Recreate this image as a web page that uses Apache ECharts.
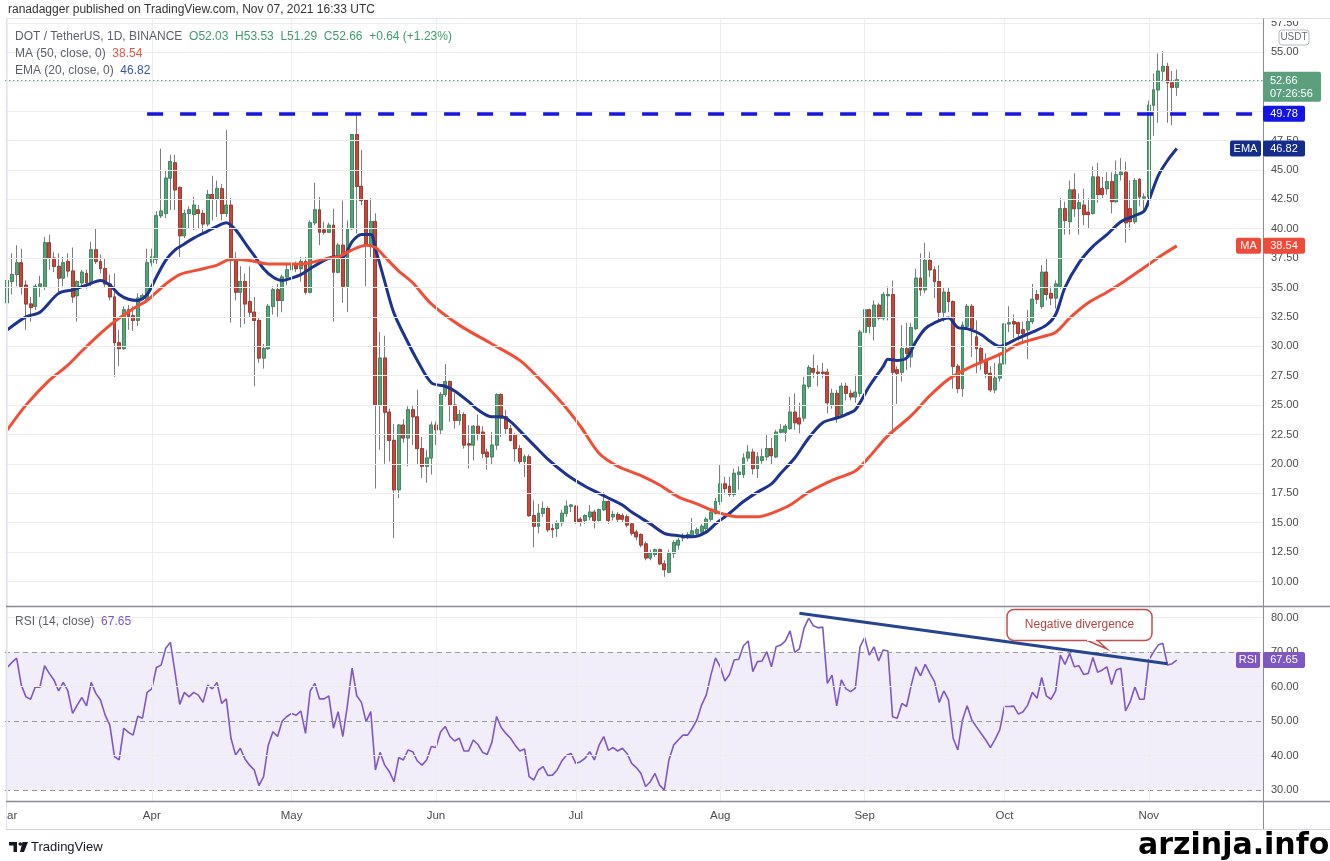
<!DOCTYPE html>
<html><head><meta charset="utf-8">
<script src="https://cdn.jsdelivr.net/npm/echarts@6/dist/echarts.min.js"></script>
<style>html,body{margin:0;padding:0;background:#fff;}#c{width:1330px;height:861px;}</style>
</head><body><div id="c"></div>
<script>
// ---------- DATA ----------
const startYear = 2021, startMonth = 2, startDay = 1; // 1 Mar 2021
const dayCount = 270;
const monthNames = ['Jan','Feb','Mar','Apr','May','Jun','Jul','Aug','Sep','Oct','Nov','Dec'];

// daily candles [open, close, low, high], 1 Mar 2021 .. 7 Nov 2021
const candles = [
[33.7,35.6,32.9,36.0],[35.5,36.1,34.4,37.9],[36.1,37.1,35.1,38.6],[37.1,35.1,34.4,38.3],[35.2,33.6,31.4,35.6],
[33.6,33.3,32.1,34.2],[33.4,35.1,33.1,35.3],[35.1,35.3,34.2,36.0],[35.0,38.8,34.8,39.3],[38.8,37.5,36.5,39.5],
[37.5,36.8,36.3,38.0],[36.8,35.8,34.5,37.9],[35.8,37.1,35.1,37.6],[37.2,36.4,35.9,37.9],[36.4,34.2,33.7,38.4],
[34.3,35.5,32.1,35.6],[35.4,36.3,35.1,36.5],[36.2,35.4,34.9,36.5],[35.4,38.2,35.1,38.9],[38.2,37.2,37.0,40.0],
[37.2,36.6,36.2,37.8],[36.6,35.3,35.0,37.5],[35.3,34.2,33.9,36.1],[34.2,30.3,27.4,36.2],[30.3,29.8,28.3,31.4],
[29.8,33.1,29.7,33.4],[33.1,32.5,31.4,33.5],[32.6,32.2,31.3,33.4],[32.2,34.1,31.7,34.5],[34.0,34.3,33.9,34.5],
[34.0,37.1,33.8,38.3],[37.1,37.6,36.8,38.3],[37.4,41.1,37.0,41.5],[41.1,41.5,40.9,46.8],[41.3,44.3,40.9,45.0],
[44.3,45.7,41.6,46.3],[45.6,43.3,41.6,46.3],[43.5,39.4,37.6,43.6],[39.4,41.3,39.2,41.6],[41.3,41.6,40.0,41.9],
[41.2,42.0,39.9,42.7],[41.6,41.3,40.0,42.0],[41.3,40.4,39.6,41.6],[40.4,42.9,40.2,43.3],[42.9,42.5,40.7,44.5],
[42.5,43.4,41.0,44.1],[43.4,41.3,40.7,43.8],[41.3,42.0,41.0,48.4],[42.0,37.3,32.0,42.6],[37.3,34.6,33.9,38.0],
[34.6,35.5,31.6,36.8],[35.5,33.6,31.9,36.2],[33.8,32.9,32.5,36.8],[32.9,32.2,26.6,34.2],[32.2,29.0,28.6,32.5],
[29.0,29.8,28.1,30.2],[29.8,33.4,29.7,33.6],[33.4,34.8,32.7,35.1],[34.8,33.9,32.5,35.3],[33.9,35.9,32.9,36.1],
[35.9,36.5,35.2,37.1],[36.5,36.9,36.2,37.3],[36.9,36.6,36.3,37.2],[36.6,37.2,35.5,37.6],[37.2,34.6,34.4,37.6],
[34.6,40.5,34.5,40.7],[40.5,41.6,40.3,43.9],[41.6,39.7,38.6,42.7],[39.9,39.7,39.5,40.6],[39.7,40.3,39.7,40.5],
[40.3,36.3,32.1,41.7],[36.3,38.6,36.2,38.8],[38.6,35.1,33.7,42.4],[35.1,40.0,32.9,40.7],[40.0,48.0,39.9,48.0],
[48.0,43.6,39.6,49.8],[43.6,42.4,42.0,46.7],[42.4,38.6,35.1,42.4],[38.6,40.6,37.6,42.6],[40.6,25.0,17.9,41.3],
[25.0,29.0,21.2,31.2],[29.0,24.4,20.0,30.9],[24.4,22.0,20.2,24.7],[22.0,17.8,13.7,23.4],[17.8,23.3,17.1,23.4],
[23.3,22.2,21.8,23.8],[22.2,24.6,19.8,24.9],[24.6,24.0,21.6,25.0],[24.0,21.3,20.0,26.3],[21.3,19.8,18.8,22.3],
[19.8,20.5,18.4,21.2],[20.5,23.3,19.1,23.6],[23.3,22.9,21.6,23.6],[22.9,25.9,22.5,26.1],[25.9,27.0,25.7,28.5],
[27.0,25.0,23.6,27.1],[25.0,23.7,23.0,26.0],[23.7,24.2,23.3,24.6],[24.2,21.6,21.3,24.4],[21.7,21.6,19.6,23.3],
[21.6,23.2,20.3,23.3],[23.2,22.6,22.0,24.2],[22.7,20.9,20.5,23.2],[21.0,20.6,19.5,21.3],[20.6,21.6,19.9,22.7],
[21.6,25.9,21.2,26.0],[25.9,23.9,22.3,26.0],[24.0,23.0,22.5,24.6],[23.0,22.0,21.9,23.3],[22.5,21.3,20.2,22.6],
[21.3,20.2,20.0,21.6],[20.2,20.6,18.9,20.8],[20.6,15.6,15.5,20.8],[15.6,14.7,12.9,16.9],[14.7,15.8,14.1,16.6],
[15.8,16.2,15.5,16.8],[16.2,14.4,14.2,16.4],[14.5,14.4,13.7,14.9],[14.5,15.0,13.8,15.2],[15.0,15.8,14.7,16.1],
[15.8,16.4,15.5,16.9],[16.4,16.5,15.9,16.6],[16.4,15.1,14.9,16.5],[15.3,15.1,14.7,15.5],[15.2,15.6,14.9,15.7],
[15.5,15.9,15.2,16.5],[15.9,15.2,14.5,16.1],[15.2,16.1,15.1,16.2],[16.1,16.8,16.0,17.6],[16.8,15.2,14.9,16.9],
[15.5,15.7,15.2,16.0],[15.7,15.3,15.0,15.9],[15.6,15.3,15.0,15.8],[15.5,14.8,14.6,15.7],[14.9,14.1,13.9,15.0],
[14.2,13.8,13.5,14.4],[14.0,13.1,12.9,14.1],[13.2,12.0,11.8,13.4],[12.0,12.4,11.8,12.7],[12.3,12.7,12.1,12.8],
[12.7,11.5,11.4,12.8],[11.5,11.0,10.4,11.8],[10.8,12.4,10.7,12.7],[12.4,13.3,12.0,13.5],[13.1,13.5,12.7,13.7],
[13.7,13.9,13.4,14.1],[13.8,14.0,13.6,14.2],[13.9,14.3,13.8,15.4],[14.1,14.4,13.9,14.6],[14.2,14.7,14.0,14.9],
[14.5,15.3,14.3,15.5],[15.3,15.9,15.1,16.1],[15.8,16.8,15.7,17.1],[16.8,18.3,16.5,19.9],[18.3,17.9,17.4,18.9],
[18.1,17.4,17.2,18.9],[17.4,19.2,17.2,19.6],[19.1,19.3,17.8,19.8],[19.1,20.5,18.8,20.9],[20.5,21.0,20.2,21.6],
[21.0,19.6,19.1,21.3],[19.6,20.6,18.8,21.0],[20.3,20.6,20.0,21.3],[20.6,21.3,20.3,22.5],[21.3,20.7,19.9,22.2],
[20.6,22.7,20.5,22.9],[22.7,22.9,22.6,23.4],[22.7,23.2,21.9,23.4],[23.0,24.4,22.9,25.7],[24.4,23.5,22.9,26.0],
[23.9,23.4,22.6,25.2],[23.9,26.7,23.6,27.4],[26.6,28.2,26.4,28.4],[28.1,27.8,27.3,29.3],[27.8,27.7,26.6,28.4],
[27.8,27.7,27.3,28.6],[27.8,25.2,24.3,28.1],[25.0,26.0,24.7,26.4],[26.0,23.9,23.5,26.3],[24.2,26.6,23.9,26.9],
[26.6,26.0,25.4,26.9],[26.0,25.7,25.4,26.3],[25.7,26.1,25.2,27.6],[26.0,31.2,25.7,31.4],[31.2,33.1,29.7,33.8],
[33.1,31.7,31.1,33.2],[31.7,33.5,30.5,33.9],[33.5,32.4,32.2,33.7],[32.4,34.4,32.2,34.6],[34.3,34.4,32.2,35.1],
[34.4,27.8,22.5,35.6],[28.0,27.7,25.1,28.3],[27.8,29.8,27.0,31.8],[29.8,29.4,28.0,32.0],[29.1,31.6,28.2,32.0],
[31.5,35.8,31.4,36.6],[35.8,34.8,34.3,37.9],[34.8,37.3,34.5,38.8],[37.3,36.5,35.9,38.0],[36.5,35.5,34.1,36.8],
[35.5,32.9,32.1,36.9],[32.9,34.6,32.1,35.0],[34.6,33.8,32.9,35.0],[33.8,28.3,26.4,33.9],[28.3,26.4,26.0,28.5],
[26.4,31.8,25.7,32.1],[31.7,33.4,31.4,33.6],[33.4,31.5,29.1,33.6],[30.8,29.8,27.7,32.2],[29.8,28.7,28.0,30.1],
[28.8,27.7,27.3,29.4],[27.7,26.3,26.1,28.3],[26.3,27.3,26.0,28.6],[27.3,28.5,27.0,29.3],[28.5,31.9,28.3,32.1],
[31.9,32.0,31.2,33.4],[32.1,31.9,30.7,32.7],[32.0,31.1,30.5,32.1],[31.4,31.1,30.4,32.1],[31.4,32.1,28.9,33.1],
[32.1,34.0,31.9,35.3],[34.4,34.0,33.6,34.8],[33.4,36.3,33.2,36.9],[36.3,34.4,33.9,37.5],[34.5,34.1,33.5,35.1],
[34.1,35.3,33.2,35.6],[35.1,41.7,34.9,42.6],[41.7,40.7,39.5,42.3],[40.6,43.3,39.5,44.1],[43.3,41.7,41.0,44.7],
[41.7,42.2,39.5,43.0],[42.0,41.2,40.3,43.4],[41.4,41.2,40.0,42.6],[41.3,44.4,41.2,45.3],[44.4,42.9,42.2,45.6],
[43.4,42.9,42.6,44.4],[43.4,44.0,42.9,44.8],[44.0,42.3,41.3,44.8],[42.3,44.6,42.2,45.8],[44.6,44.8,44.1,46.0],
[44.8,40.5,38.8,45.7],[41.7,40.6,39.9,44.1],[40.6,44.1,40.4,44.3],[44.2,42.7,41.9,44.3],[42.6,42.7,41.4,43.0],
[42.7,50.5,41.9,50.9],[50.5,51.8,47.9,53.2],[51.8,53.4,49.0,54.9],[53.4,53.8,52.6,55.1],[53.8,52.4,49.0,54.1],
[52.4,52.02,48.8,53.4],[52.03,52.66,51.29,53.53]
];

// RSI(14) daily values
const rsiValues = [
65.5,67.0,68.2,60.4,57.0,56.3,59.9,59.8,66.0,63.8,61.9,58.7,61.2,58.7,52.2,54.6,56.8,54.4,61.2,58.0,
56.1,51.7,48.8,39.7,38.7,47.9,46.7,45.9,51.4,50.8,58.3,59.3,65.5,66.2,71.1,72.8,64.0,54.8,58.3,57.0,
58.3,57.5,55.4,60.4,59.3,61.2,55.1,56.4,45.0,40.1,42.1,39.0,37.2,35.8,31.3,33.9,43.0,46.9,45.5,50.0,
51.3,52.2,51.7,52.9,46.4,58.7,60.9,56.4,56.4,57.3,47.9,52.7,45.5,54.6,65.3,57.3,55.4,49.8,52.7,35.8,
40.9,37.2,35.3,32.4,39.4,38.7,41.6,41.1,38.4,37.2,38.7,42.6,42.3,46.9,48.4,45.5,44.2,45.0,41.3,41.3,
44.5,43.2,40.9,40.3,43.8,51.3,48.1,46.4,45.0,43.0,41.3,41.9,33.9,32.9,35.8,36.8,34.2,34.3,35.8,38.4,
40.1,40.6,37.7,38.2,39.2,41.1,38.7,43.0,45.5,41.5,42.3,41.3,42.1,40.6,37.7,36.5,34.8,31.0,32.4,34.8,
31.4,30.0,38.7,43.0,44.5,45.9,45.9,47.9,50.3,54.6,57.5,63.3,68.3,65.7,61.6,63.5,67.7,67.9,71.8,73.2,
64.3,67.2,67.4,70.1,65.7,71.5,72.0,73.2,76.1,69.9,70.9,76.9,79.8,77.6,77.0,77.2,60.9,63.3,54.4,61.9,
59.3,58.5,59.5,71.5,74.2,69.1,71.5,67.4,70.6,70.3,51.2,50.8,55.1,54.2,60.4,65.7,63.1,66.4,63.8,61.4,
55.4,58.7,56.1,45.0,41.6,50.3,54.4,50.3,48.3,46.4,44.5,42.3,44.7,47.4,54.2,54.2,54.3,52.0,52.7,54.6,
58.3,56.6,62.6,57.3,56.3,58.7,69.1,66.4,69.6,65.7,66.0,63.5,63.8,68.4,64.1,64.8,65.7,60.6,64.8,65.3,
52.9,55.6,59.9,56.3,56.3,67.7,70.0,72.0,72.5,66.2,66.6,67.65
];

// EMA(20) read at sampled days [dayIndex, value]
const emaPoints = [
[0,31.4],[4,32.5],[7,32.9],[11,34.5],[14,34.8],[17,35.2],[20,35.6],[22,35.2],[24,34.4],[26,34.0],
[28,33.9],[30,34.4],[32,35.9],[34,37.3],[36,38.2],[38,38.7],[40,39.2],[43,39.8],[45,40.2],[47,40.5],
[49,39.9],[51,38.8],[53,37.7],[55,36.6],[57,35.9],[59,35.6],[61,35.8],[63,36.1],[65,36.6],[68,37.3],
[70,37.6],[72,37.6],[74,38.9],[76,39.5],[78,39.5],[79,38.3],[81,35.5],[83,32.8],[86,30.3],[88,28.8],
[91,26.9],[94,26.6],[96,26.2],[99,25.3],[101,24.6],[104,24.0],[106,24.0],[108,23.6],[111,22.4],[113,21.6],
[116,20.4],[120,19.1],[124,18.1],[127,17.5],[129,17.1],[132,16.5],[134,15.9],[138,14.9],[141,14.1],[144,13.9],
[147,13.8],[150,14.2],[152,14.9],[155,15.8],[158,16.8],[161,17.6],[164,18.3],[166,19.2],[169,20.5],[172,22.2],
[175,23.5],[178,23.9],[180,24.2],[182,24.6],[185,26.6],[188,28.3],[189,28.9],[191,28.8],[193,29.0],[195,30.4],
[197,31.5],[199,32.0],[202,32.4],[204,31.6],[206,31.5],[209,31.0],[211,30.4],[213,30.0],[215,30.3],[217,30.7],
[220,31.2],[223,31.8],[225,32.7],[227,35.0],[230,37.1],[233,38.5],[236,39.5],[239,40.6],[242,41.1],[244,41.5],
[245,42.4],[247,44.5],[249,45.8],[251,46.82]
];

// MA(50) read at sampled days [dayIndex, value]
const maPoints = [
[0,22.9],[4,25.0],[9,27.1],[13,28.4],[16,29.6],[20,31.1],[23,32.1],[27,33.2],[30,33.9],[32,34.6],
[34,35.3],[37,36.1],[41,36.5],[45,36.9],[48,37.4],[52,37.3],[56,37.0],[60,37.0],[63,37.0],[66,37.2],
[69,37.5],[71,37.6],[74,38.2],[77,38.6],[79,38.4],[81,37.6],[84,36.4],[87,35.4],[91,33.6],[97,31.8],
[104,30.2],[110,28.8],[114,27.3],[119,25.2],[123,23.2],[127,20.9],[131,19.8],[136,19.0],[140,18.2],[144,17.2],
[148,16.6],[151,16.1],[154,15.7],[157,15.5],[161,15.5],[164,15.8],[168,16.5],[172,17.6],[177,18.6],[182,19.4],
[185,20.6],[189,22.4],[194,24.1],[198,25.8],[202,27.2],[206,28.1],[210,28.8],[214,29.5],[217,30.2],[222,30.8],
[225,31.2],[228,32.4],[232,33.7],[236,34.6],[240,35.6],[244,36.7],[248,37.8],[251,38.54]
];

const priceTicks = [10,12.5,15,17.5,20,22.5,25,27.5,30,32.5,35,37.5,40,42.5,45,47.5,50,52.5,55,57.5];
const rsiSolidTicks = [80,60,40];
const rsiDashedTicks = [70,50,30];
const resistanceLevel = 49.78, resistanceStartDay = 30;
const lastPrice = 52.66, lastEma = 46.82, lastMa = 38.54, lastRsi = 67.65;
const divergenceFrom = [170, 81.2], divergenceTo = [249, 66.6];

// ---------- BUILD ----------
const categories = [];
for (let i = 0; i < dayCount; i++) {
  const d = new Date(Date.UTC(startYear, startMonth, startDay + i));
  categories.push(d.toISOString().slice(0, 10));
}
const monthStarts = categories.filter(c => c.endsWith('-01'));
const bodies = candles.map(([o, c]) => [o, c, Math.min(o, c), Math.max(o, c)]);
const toCat = pts => pts.map(([d, v]) => [categories[d], v]);
const monthLabel = v => monthNames[+v.slice(5, 7) - 1];

const FONT = '"Liberation Sans", Arial, sans-serif';
const GRID = '#ededee';
const axisLabel = { show: true, position: 'end', distance: 8, color: '#4a4a4a', fontSize: 11, fontFamily: FONT,
  formatter: p => Number(p.value).toFixed(2) };

const chart = echarts.init(document.getElementById('c'), null, { renderer: 'canvas' });

const option = {
  animation: false,
  backgroundColor: '#ffffff',
  textStyle: { fontFamily: FONT },
  grid: [
    { left: 5, right: 67, top: 19, height: 587 },
    { left: 5, right: 67, top: 607, height: 194 }
  ],
  xAxis: [
    { type: 'category', gridIndex: 0, data: categories, boundaryGap: true,
      axisLine: { show: false }, axisTick: { show: false }, axisLabel: { show: false }, splitLine: { show: false } },
    { type: 'category', gridIndex: 1, data: categories, boundaryGap: true,
      axisLine: { show: false }, axisTick: { show: false }, splitLine: { show: false },
      axisLabel: { show: true, interval: (i, v) => i > 0 && v.endsWith('-01'),
        formatter: monthLabel, color: '#4a4a4a', fontSize: 11.5, margin: 9 } }
  ],
  yAxis: [
    { type: 'value', gridIndex: 0, min: 7.917, max: 57.83, show: false },
    { type: 'value', gridIndex: 1, min: 26.81, max: 83.04, show: false }
  ],
  series: [
    { name: 'wicks', type: 'candlestick', xAxisIndex: 0, yAxisIndex: 0, silent: true, barWidth: 3.4,
      data: candles,
      itemStyle: { color: '#7d7d80', color0: '#7d7d80', borderColor: '#7d7d80', borderColor0: '#7d7d80', borderWidth: 1 },
      markLine: { silent: true, symbol: ['none', 'none'], label: axisLabel,
        lineStyle: { color: GRID, width: 1, type: 'solid' },
        data: priceTicks.map(v => ({ yAxis: v }))
          .concat(monthStarts.map(c => ({ xAxis: c, label: { show: false } }))) } },
    { name: 'bodies', type: 'candlestick', xAxisIndex: 0, yAxisIndex: 0, silent: true, barWidth: 3.4,
      data: bodies,
      itemStyle: { color: '#56a37a', color0: '#c6473c', borderColor: '#3f8a61', borderColor0: '#a13a31', borderWidth: 1 },
      markLine: { silent: true, symbol: ['none', 'none'], label: { show: false },
        data: [
          { yAxis: lastPrice, lineStyle: { color: '#5a9f7c', type: [1.5, 2.5], width: 1 } },
          [ { coord: [categories[resistanceStartDay], resistanceLevel], lineStyle: { color: '#1616dc', type: [16, 17], width: 3.5 } },
            { coord: [categories[dayCount - 1], resistanceLevel] } ]
        ] } },
    { name: 'EMA', type: 'line', xAxisIndex: 0, yAxisIndex: 0, data: toCat(emaPoints), smooth: 0.3,
      showSymbol: false, silent: true, lineStyle: { color: '#1d3390', width: 3 } },
    { name: 'MA', type: 'line', xAxisIndex: 0, yAxisIndex: 0, data: toCat(maPoints), smooth: 0.3,
      showSymbol: false, silent: true, lineStyle: { color: '#f04f36', width: 3 } },
    { name: 'RSI', type: 'line', xAxisIndex: 1, yAxisIndex: 1, data: rsiValues, showSymbol: false, silent: true,
      lineStyle: { color: '#7e57c2', width: 1.6 },
      markArea: { silent: true, itemStyle: { color: 'rgba(126,87,194,0.1)' }, data: [[{ yAxis: 30 }, { yAxis: 70 }]] },
      markLine: { silent: true, symbol: ['none', 'none'], label: axisLabel,
        data: rsiSolidTicks.map(v => ({ yAxis: v, lineStyle: { color: GRID, type: 'solid', width: 1 } }))
          .concat(rsiDashedTicks.map(v => ({ yAxis: v, lineStyle: { color: '#9598a1', type: [5, 4], width: 1 } })))
          .concat(monthStarts.map(c => ({ xAxis: c, label: { show: false }, lineStyle: { color: GRID, type: 'solid', width: 1 } })))
          .concat([[ { coord: [categories[divergenceFrom[0]], divergenceFrom[1]], label: { show: false },
                       lineStyle: { color: '#27448f', type: 'solid', width: 3 } },
                     { coord: [categories[divergenceTo[0]], divergenceTo[1]] } ]]) } }
  ]
};
chart.setOption(option);

// ---------- ANNOTATIONS ----------
const py = v => chart.convertToPixel({ yAxisIndex: 0 }, v);
const ry = v => chart.convertToPixel({ yAxisIndex: 1 }, v);
const px = c => chart.convertToPixel({ xAxisIndex: 1 }, c);
const mctx = document.createElement('canvas').getContext('2d');
const tw = (t, f) => { mctx.font = f; return mctx.measureText(t).width; };

const G = [];
const txt = (x, y, text, fill, font, align, z) => G.push({ type: 'text', x, y, silent: true, z: z || 100,
  style: { text, fill, font, textAlign: align || 'left', textVerticalAlign: 'middle', align: align || 'left', verticalAlign: 'middle' } });
const rect = (x, y, w, h, fill, extra) => G.push(Object.assign({ type: 'rect', silent: true, z: 90,
  shape: { x, y, width: w, height: h, r: 2 }, style: { fill } }, extra || {}));
const line = (x1, y1, x2, y2, stroke, w) => G.push({ type: 'line', silent: true, z: 80,
  shape: { x1, y1, x2, y2 }, style: { stroke, lineWidth: w || 1 } });
const segs = (x, y, parts, font) => { parts.forEach(([t, c]) => { txt(x, y, t, c, font); x += tw(t, font); }); };

const F12 = '12px ' + FONT, F11 = '11px ' + FONT;
const GRAY = '#5d606b', GREEN = '#3f9b6c';

// first month label, partly hidden behind the left edge of the time scale
txt(px(categories[0]), 815.5, monthLabel(categories[0]), '#4a4a4a', '11.5px ' + FONT, 'center', 70);

// clipping masks (top of price scale, left of time scale)
G.push({ type: 'rect', silent: true, z: 75, shape: { x: 1264, y: 0, width: 66, height: 21 }, style: { fill: '#fff' } });
G.push({ type: 'rect', silent: true, z: 75, shape: { x: 0, y: 803, width: 6.5, height: 25 }, style: { fill: '#fff' } });

// frame
line(6.5, 18.5, 1330, 18.5, '#e0e3eb');
line(6.5, 18.5, 6.5, 829, '#e0e3eb');
line(6, 606.5, 1330, 606.5, '#8a8d96', 1.5);
line(6, 801.5, 1330, 801.5, '#8a8d96', 1.5);
line(6, 829.5, 1330, 829.5, '#d1d4dc');
line(1263.5, 18.5, 1263.5, 829, '#8a8d96', 1);

// header
txt(8, 10, 'ranadagger published on TradingView.com, Nov 07, 2021 16:33 UTC', '#333333', F12);
segs(15, 37, [['DOT / TetherUS, 1D, BINANCE  ', GRAY], ['O52.03  H53.53  L51.29  C52.66  +0.64 (+1.23%)', GREEN]], F12);
segs(15, 54, [['MA (50, close, 0)  ', GRAY], ['38.54', '#e5564a']], F12);
segs(15, 71, [['EMA (20, close, 0)  ', GRAY], ['46.82', '#3656b3']], F12);
segs(15, 622, [['RSI (14, close)  ', GRAY], ['67.65', '#7e57c2']], F12);

// USDT tag
G.push({ type: 'rect', silent: true, z: 90, shape: { x: 1279, y: 30, width: 30, height: 15, r: 3 },
  style: { fill: '#fff', stroke: '#b7bac2', lineWidth: 1 } });
txt(1294, 37.5, 'USDT', '#6a6d78', '10px ' + FONT, 'center');

// price tags on the axis
const yP = py(lastPrice);
rect(1263, yP - 8, 58, 30, '#5b9f7d');
txt(1270, yP + 1, lastPrice.toFixed(2), '#fff', F11);
txt(1270, yP + 14, '07:26:56', '#fff', F11);

const yR = py(resistanceLevel);
rect(1263, yR - 8, 42, 16, '#1414e6');
txt(1284, yR, resistanceLevel.toFixed(2), '#fff', F11, 'center');

const yE = py(lastEma);
rect(1230, yE - 8, 31, 16, '#142c8c');
txt(1245.5, yE, 'EMA', '#fff', F11, 'center');
rect(1263, yE - 8, 42, 16, '#142c8c');
txt(1284, yE, lastEma.toFixed(2), '#fff', F11, 'center');

const yM = py(lastMa);
rect(1236, yM - 8, 25, 16, '#ee4c3b');
txt(1248.5, yM, 'MA', '#fff', F11, 'center');
rect(1263, yM - 8, 42, 16, '#ee4c3b');
txt(1284, yM, lastMa.toFixed(2), '#fff', F11, 'center');

const yRsi = ry(lastRsi);
rect(1236, yRsi - 8, 24, 16, '#7e57c2');
txt(1248, yRsi, 'RSI', '#fff', F11, 'center');
rect(1263, yRsi - 8, 42, 16, '#7e57c2');
txt(1284, yRsi, lastRsi.toFixed(2), '#fff', F11, 'center');

// "Negative divergence" callout
G.push({ type: 'polygon', silent: true, z: 95, shape: { points: [[1086, 640], [1107, 649], [1097, 640]] },
  style: { fill: '#fff', stroke: '#c0504d', lineWidth: 1.5 } });
G.push({ type: 'rect', silent: true, z: 96, shape: { x: 1007, y: 609.5, width: 145, height: 31, r: 7 },
  style: { fill: '#fff', stroke: '#c0504d', lineWidth: 1.5 } });
G.push({ type: 'rect', silent: true, z: 97, shape: { x: 1087, y: 638, width: 9, height: 3, r: 0 }, style: { fill: '#fff' } });
txt(1079.5, 625, 'Negative divergence', '#b4443f', F12, 'center');

// footer
G.push({ type: 'rect', silent: true, z: 90, shape: { x: 9, y: 842, width: 8, height: 3.5 }, style: { fill: '#131722' } });
G.push({ type: 'rect', silent: true, z: 90, shape: { x: 13.5, y: 842, width: 3.5, height: 10 }, style: { fill: '#131722' } });
G.push({ type: 'circle', silent: true, z: 90, shape: { cx: 20.3, cy: 844, r: 1.8 }, style: { fill: '#131722' } });
G.push({ type: 'polygon', silent: true, z: 90, shape: { points: [[22.5, 842], [28, 842], [24, 852], [20, 852]] }, style: { fill: '#131722' } });
txt(31, 847.5, 'TradingView', '#131722', '13px ' + FONT);
txt(1138, 846, 'arzinja.info', '#000000', 'bold 30px "DejaVu Sans", sans-serif');

chart.setOption({ graphic: G });
</script>
</body></html>
